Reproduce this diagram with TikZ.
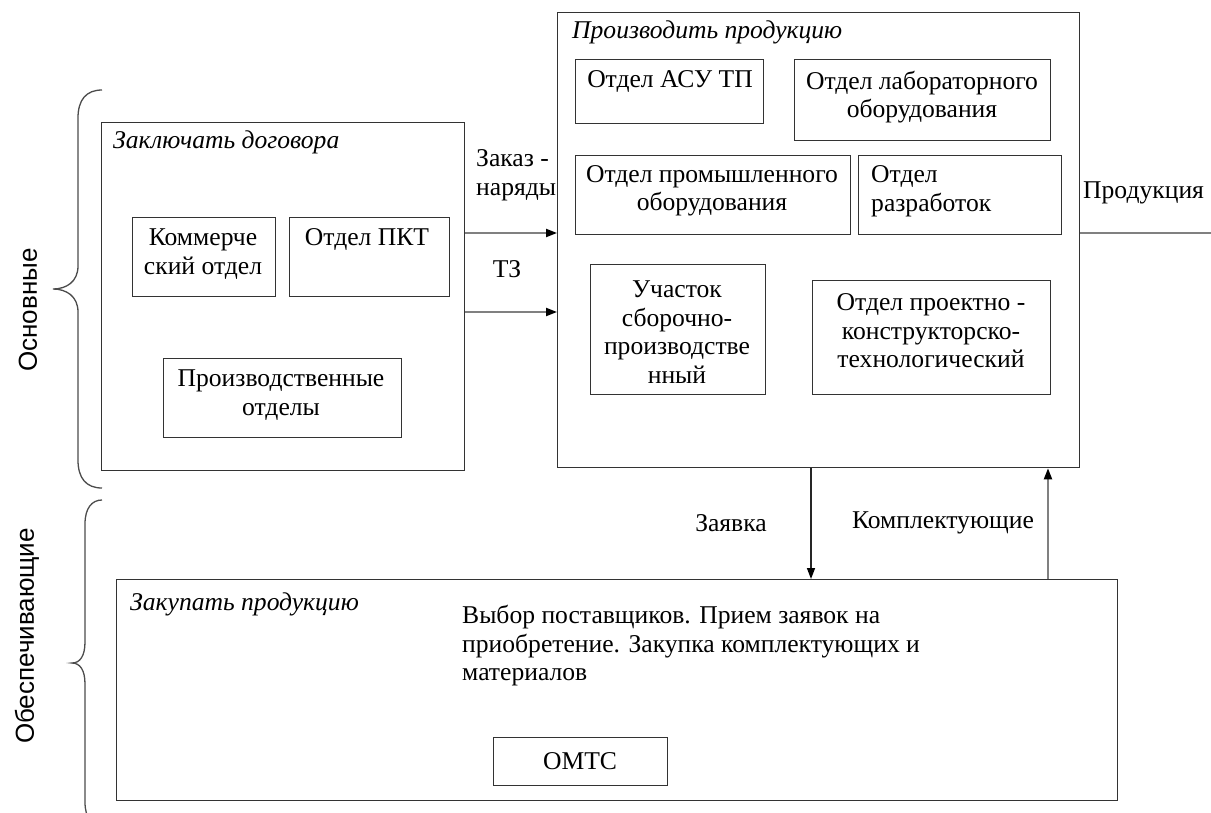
\documentclass[tikz,border=0pt]{standalone}
\usepackage{fontspec}
\setmainfont{Liberation Serif}
\setsansfont{Liberation Sans}
\usetikzlibrary{arrows.meta}
\begin{document}
\begin{tikzpicture}[x=1pt,y=-1pt,
  box/.style={draw=black!80, line width=1.3pt, inner sep=0pt, anchor=north west},
  txt/.style={font=\fontsize{25.6}{28.5}\selectfont, inner sep=0pt, align=center},
  ltxt/.style={font=\fontsize{25.6}{28.5}\selectfont, inner sep=0pt, align=left, anchor=west},
  ttl/.style={font=\fontsize{25.6}{28.5}\selectfont\itshape, inner sep=0pt, anchor=west},
  side/.style={font=\sffamily\fontsize{26}{30}\selectfont, rotate=90, inner sep=0pt},
  garrow/.style={draw=black!50, line width=2pt, -{Triangle[length=11pt,width=8pt,color=black]}},
  barrow/.style={draw=black!85, line width=1.5pt, -{Triangle[length=11pt,width=8pt,color=black]}},
  brace/.style={draw=black!70, line width=1.3pt}
]
\useasboundingbox (0,0) rectangle (1211,812);
\clip (0,0) rectangle (1211,812);
\fill[white] (0,0) rectangle (1211,812);

% outer boxes
\node[box, minimum width=363pt, minimum height=348pt] (L) at (101,122) {};
\node[box, minimum width=522pt, minimum height=455pt] (R) at (557,12) {};
\node[box, minimum width=1001pt, minimum height=221pt] (B) at (116,579) {};

% titles
\node[ttl] (Lt) at (113,142) {Заключать договора};
\node[ttl] (Rt) at (572,32) {Производить продукцию};
\node[ttl] (Bt) at (130,604) {Закупать продукцию};

% left inner boxes
\node[box, minimum width=143pt, minimum height=79pt] (kom) at (132,217) {};
\node[txt] (komt) at (203,254) {Коммерче\\ский отдел};
\node[box, minimum width=160pt, minimum height=79pt] (pkt) at (289,217) {};
\node[txt] (pktt) at (367,239) {Отдел ПКТ};
\node[box, minimum width=238pt, minimum height=79pt] (prd) at (163,358) {};
\node[txt] (prdt) at (281,395) {Производственные\\отделы};

% right inner boxes
\node[box, minimum width=188pt, minimum height=64pt] (asu) at (575,59) {};
\node[txt] (asut) at (670,81) {Отдел АСУ ТП};
\node[box, minimum width=256pt, minimum height=81pt] (lab) at (794,59) {};
\node[txt] (labt) at (922,97) {Отдел лабораторного\\оборудования};
\node[box, minimum width=275pt, minimum height=79pt] (prom) at (575,155) {};
\node[txt] (promt) at (712,191) {Отдел промышленного\\оборудования};
\node[box, minimum width=203pt, minimum height=79pt] (razr) at (858,155) {};
\node[ltxt] (razrt) at (871,191) {Отдел\\разработок};
\node[box, minimum width=175pt, minimum height=130pt] (uch) at (590,264) {};
\node[txt] (ucht) at (677,332) {Участок\\сборочно-\\производстве\\нный};
\node[box, minimum width=238pt, minimum height=114pt] (prk) at (812,280) {};
\node[txt] (prkt) at (931,331) {Отдел проектно -\\конструкторско-\\технологический};

% bottom content
\node[ltxt] (btxt) at (462,646) {Выбор поставщиков. Прием заявок на\\приобретение. Закупка комплектующих и\\материалов};
\node[box, minimum width=174pt, minimum height=48pt] (omts) at (493,737) {};
\node[txt] (omtst) at (580,761) {ОМТС};

% connectors
\draw[garrow] (L.east |- 0,233) -- (R.west |- 0,233);
\draw[garrow] (L.east |- 0,312) -- (R.west |- 0,312);
\coordinate (out) at (1222,233);
\draw[garrow] (R.east |- 0,233) -- (out);
\draw[barrow] (R.south -| 811,0) -- (B.north -| 811,0);
\draw[garrow] (B.north -| 1048,0) -- (R.south -| 1048,0);

% connector labels
\node[ltxt] (zk) at (476,175) {Заказ -\\наряды};
\node[txt] (tz) at (507,269) {ТЗ};
\node[ltxt] (pr) at (1083,193) {Продукция};
\node[txt] (zv) at (731,523) {Заявка};
\node[txt] (kt) at (943,523) {Комплектующие};

% braces
\draw[brace] (102,90) .. controls (86,90) and (78,100) .. (78,118) -- (78,266)
  .. controls (78,282) and (66,289) .. (53,289)
  .. controls (66,289) and (78,296) .. (78,312) -- (78,460)
  .. controls (78,478) and (86,488) .. (102,488);
\draw[brace] (102,500) .. controls (92,500) and (85,508) .. (85,524) -- (85,642)
  .. controls (85,656) and (80,663) .. (72,663)
  .. controls (80,663) and (85,670) .. (85,684) -- (85,802)
  .. controls (85,818) and (92,826) .. (102,826);

\node[side] (osn) at (28,310) {Основные};
\node[side] (obe) at (27,636) {Обеспечивающие};
\end{tikzpicture}
\end{document}
